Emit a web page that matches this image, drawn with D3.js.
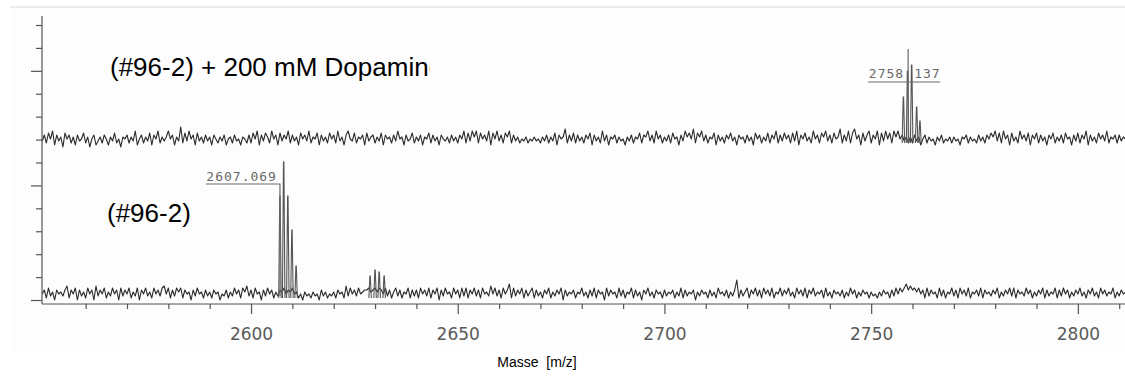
<!DOCTYPE html>
<html>
<head>
<meta charset="utf-8">
<script src="https://cdn.jsdelivr.net/npm/d3@7"></script>
<style>
  body { margin: 0; background: #fff; }
  svg { display: block; }
</style>
</head>
<body>
<svg id="chart" width="1125" height="385"></svg>
<script>
// m/z grid shared by both traces
const massStart = 2549.5;
const massStep = 0.5;

// upper trace (#96-2 + 200 mM Dopamine), baseline noise
const noiseTop = [
  0,3,-1,4,1,5,-2,3,0,2,-3,4,1,3,-1,2,-2,3,0,1,
  4,-1,2,-3,1,3,-2,0,2,-1,3,1,-2,2,0,4,-1,1,-3,2,
  1,3,-1,2,0,5,-2,1,3,-1,2,0,4,-2,3,1,5,-1,2,0,
  2,5,1,3,-2,2,0,7,-1,4,0,5,1,3,-2,4,0,2,-1,3,
  0,2,-2,3,1,-1,2,0,3,-2,1,2,-1,3,0,1,-2,2,1,-1,
  3,-1,4,1,5,-2,3,0,4,2,-1,5,1,3,-2,4,0,3,1,5,
  -1,3,0,2,-2,4,1,3,0,5,-1,2,1,4,-2,3,0,2,-1,4,
  1,3,-1,5,0,2,-2,3,5,1,0,4,-1,2,1,3,-2,4,0,2,
  3,-1,2,0,4,-2,3,1,2,-1,3,0,5,1,2,-2,3,0,1,4,
  -1,2,0,3,-2,2,1,4,-1,3,0,2,-2,3,1,0,2,-1,3,0,
  2,-1,3,1,5,-1,4,0,5,2,5,-1,4,1,3,0,5,-2,4,1,
  5,0,3,-1,4,2,5,-1,3,0,2,-1,1,0,2,-1,1,0,2,0,
  1,-1,2,0,3,-1,2,0,4,-2,3,1,2,6,-1,3,0,4,-1,3,
  0,2,-1,3,1,4,-2,3,0,2,-1,5,0,3,-2,2,1,3,-1,2,
  0,1,-2,2,0,3,-1,2,1,4,-1,3,2,5,0,3,-1,5,1,3,
  -1,2,0,3,-1,4,1,2,-2,3,0,5,2,4,1,6,-1,4,2,5,
  0,3,-1,2,1,4,-2,3,0,2,-1,3,1,4,0,2,-2,3,1,2,
  -1,3,0,2,-2,4,1,3,-1,2,0,4,-1,3,1,5,-1,3,0,4,
  1,3,-1,4,0,5,-2,3,1,4,0,2,-1,5,1,3,-1,4,2,5,
  0,3,-1,4,1,2,6,-1,3,0,5,-1,4,6,1,3,-2,4,0,3,
  5,-1,3,1,5,-2,4,0,5,1,4,-1,5,2,5,1,3,0,2,-1,
  2,-1,3,0,2,-2,1,3,-1,2,0,1,-2,2,0,3,-1,1,0,2,
  -1,2,0,1,-2,2,1,3,-1,2,0,1,-1,3,0,2,-1,3,1,4,
  2,5,0,4,-1,5,1,3,-2,4,0,2,-1,5,1,3,0,4,-2,3,
  1,4,-1,3,0,2,-2,3,1,4,-1,2,0,3,-1,4,1,2,-2,3,
  0,4,-1,3,1,5,-2,3,0,2,-1,4,1,3,0,5,-1,2,1,3,
  -1,3,0,2,1
];

// lower trace (#96-2)
const noiseBottom = [
  1,3,-1,4,0,2,-2,3,1,2,0,3,5,-1,3,1,4,-2,3,0,
  2,-1,4,1,3,-2,5,0,3,1,4,-1,2,0,4,1,3,-2,4,0,
  3,1,4,-1,2,0,4,-2,3,1,4,0,2,-1,4,1,3,0,4,5,
  1,4,-1,3,0,4,2,4,-1,3,1,2,-2,3,0,4,1,2,-1,3,
  0,2,-1,3,1,2,-2,1,0,3,-1,2,0,4,1,3,-1,4,2,5,
  0,3,-1,4,1,2,-2,3,0,4,1,3,-1,2,0,3,2,4,1,3,
  2,4,1,2,-1,1,-2,2,0,1,-1,2,0,1,-2,3,0,2,-1,1,
  0,2,-1,3,1,2,-1,5,0,4,1,3,0,4,1,2,3,3,4,2,
  3,4,2,4,3,1,4,0,3,-1,2,4,0,3,-1,2,1,4,-1,3,
  0,3,-1,4,1,3,0,4,-1,3,1,4,-2,3,0,4,1,2,-1,4,
  1,3,-1,4,0,4,-1,3,1,4,0,3,-1,4,1,2,0,5,1,4,
  0,3,-1,4,1,3,6,-1,4,0,3,1,4,-1,3,0,2,4,-1,3,
  0,2,-1,3,1,4,-1,2,0,3,1,4,-2,3,0,2,1,3,-1,2,
  1,4,0,2,-1,3,0,4,-1,3,1,2,-2,4,0,3,1,2,-1,4,
  0,3,-1,2,1,4,-1,3,0,2,-2,3,1,4,0,2,-1,3,1,2,
  -1,3,0,2,1,3,-1,2,0,4,-1,3,0,2,1,3,-2,2,0,3,
  1,2,-1,3,0,2,-1,4,1,2,0,3,-1,2,0,3,8,-1,3,0,
  2,4,-1,3,1,4,0,3,-1,4,1,3,0,4,-1,2,1,4,0,3,
  1,4,0,2,-1,4,1,3,0,4,-1,3,1,4,0,2,1,3,-1,4,
  0,2,-1,3,1,2,0,3,-1,2,0,4,1,3,-1,2,0,3,1,2,
  -1,2,0,1,-1,2,0,3,1,2,-1,3,0,4,1,4,2,4,6,3,
  5,3,4,2,4,1,3,-1,4,0,3,1,2,-1,4,0,3,-1,2,1,
  4,0,3,-1,4,1,3,0,4,-1,2,1,3,0,4,-1,3,1,2,0,
  3,1,4,-1,2,0,3,1,4,0,4,-1,3,1,2,0,4,1,3,-1,
  2,0,3,1,4,-1,3,0,2,1,4,-1,3,0,4,1,3,-1,2,0,
  3,1,4,0,2,-1,3,1,4,0,2,-1,4,1,3,0,2,1,4,-1,
  2,0,3,1,2
];

// isotope peaks
const peaksTopMass = [2757.8, 2758.8, 2759.8, 2761.0, 2761.8];
const peaksTopHeight = [22, 35, 38, 17, 10];
const peaksBottomMass = [2607.0, 2607.9, 2608.9, 2609.9, 2610.9, 2628.8, 2630.0, 2631.0, 2632.2];
const peaksBottomHeight = [50, 67, 50, 33, 15, 10, 13, 12, 10];

// peak annotations
const annTopMass = 2758.95;
const annBottomMass = 2607.0;

const xTickValues = [2600, 2650, 2700, 2750, 2800];
const xMinorTicks = d3.range(2560, 2811, 10);
const yTickCount = 12;

const svg = d3.select("#chart");

// scanned sheet
svg.append("rect")
  .attr("x", 10).attr("y", 7)
  .attr("width", 1115).attr("height", 346)
  .attr("fill", "#fdfdfd");
svg.append("line")
  .attr("x1", 10).attr("x2", 1125).attr("y1", 7).attr("y2", 7)
  .attr("stroke", "#d9d9d9");

// scales (2 px per intensity unit)
const x = d3.scaleLinear().domain([2549.44, 2811.4]).range([42, 1125]);
const yTop = d3.scaleLinear().domain([0, 50]).range([141, 41]);
const yBot = d3.scaleLinear().domain([0, 50]).range([296, 196]);
const yIdx = d3.scaleLinear().domain([0, yTickCount]).range([300, 25]);

// Draw traces
const line = d3.line().x(d => x(d[0]));

function trace(noise, y) {
  const pts = noise.map((v, i) => [massStart + i * massStep, v]);
  svg.append("path")
    .attr("d", line.y(d => y(d[1]))(pts))
    .attr("fill", "none")
    .attr("stroke", "#2a2a2a")
    .attr("stroke-width", 1.1)
    .attr("stroke-linejoin", "round");
}
trace(noiseTop, yTop);
trace(noiseBottom, yBot);

function peaks(masses, heights, y) {
  masses.forEach((m, i) => {
    const pts = [[m - 0.3, -1], [m - 0.05, heights[i]], [m + 0.05, heights[i]], [m + 0.3, -1]];
    svg.append("path")
      .attr("d", line.y(d => y(d[1]))(pts))
      .attr("fill", "none")
      .attr("stroke", "#555")
      .attr("stroke-width", 1.1);
  });
}
peaks(peaksTopMass, peaksTopHeight, yTop);
peaks(peaksBottomMass, peaksBottomHeight, yBot);

// Annotations
const annColor = "#6a6a6a";
const annFont = "'DejaVu Sans Mono', monospace";

// lower: 2607.069
svg.append("path")
  .attr("d", `M${x(annBottomMass) - 74},${yBot(56)}H${x(annBottomMass)}V${yBot(0)}`)
  .attr("fill", "none").attr("stroke", annColor).attr("stroke-width", 1.2);
svg.append("text")
  .attr("x", x(annBottomMass) - 3).attr("y", yBot(56) - 3)
  .attr("text-anchor", "end")
  .attr("font-family", annFont).attr("font-size", 13)
  .attr("letter-spacing", 1)
  .attr("fill", annColor)
  .text("2607.069");

// upper: 2758.137
svg.append("path")
  .attr("d", `M${x(annTopMass)},${yTop(46)}V${yTop(0)}M${x(annTopMass) - 40},${yTop(29.5)}H${x(annTopMass) + 32}`)
  .attr("fill", "none").attr("stroke", annColor).attr("stroke-width", 1.2);
svg.append("text")
  .attr("x", x(annTopMass) - 4).attr("y", yTop(29.5) - 4)
  .attr("text-anchor", "end")
  .attr("font-family", annFont).attr("font-size", 13)
  .attr("letter-spacing", 1)
  .attr("fill", annColor)
  .text("2758");
svg.append("text")
  .attr("x", x(annTopMass) + 6).attr("y", yTop(29.5) - 4)
  .attr("font-family", annFont).attr("font-size", 13)
  .attr("letter-spacing", 1)
  .attr("fill", annColor)
  .text("137");

// Y axis (unlabelled intensity ticks)
const yAxis = svg.append("g")
  .attr("transform", "translate(42,0)")
  .call(d3.axisLeft(yIdx).tickValues(d3.range(0, yTickCount + 1)).tickSize(6).tickFormat(""));
yAxis.select(".domain").remove();
yAxis.selectAll(".tick line")
  .attr("x2", d => (d % 5 === 0 ? -11 : -6))
  .attr("stroke", "#555").attr("stroke-width", 1.2);
svg.append("line")
  .attr("x1", 42).attr("x2", 42).attr("y1", 16).attr("y2", 304)
  .attr("stroke", "#555").attr("stroke-width", 1.2);

// X axis
const xMinor = svg.append("g")
  .attr("transform", "translate(0,304)")
  .call(d3.axisBottom(x).tickValues(xMinorTicks.filter(v => v % 50 !== 0)).tickSize(5).tickFormat(""));
xMinor.select(".domain").remove();
xMinor.selectAll(".tick line").attr("stroke", "#555").attr("stroke-width", 1.2);

const xMajor = svg.append("g")
  .attr("transform", "translate(0,304)")
  .call(d3.axisBottom(x).tickValues(xTickValues).tickSize(10).tickPadding(14).tickFormat(d3.format("d")));
xMajor.select(".domain").remove();
xMajor.selectAll(".tick line").attr("stroke", "#555").attr("stroke-width", 1.2);
xMajor.selectAll(".tick text")
  .attr("font-family", "'DejaVu Sans', sans-serif")
  .attr("font-size", 17)
  .attr("fill", "#5a5a5a");

svg.append("line")
  .attr("x1", 42).attr("x2", 1125).attr("y1", 304).attr("y2", 304)
  .attr("stroke", "#555").attr("stroke-width", 1.2);

// Sample labels
svg.append("clipPath").attr("id", "clipLabel")
  .append("rect").attr("x", 0).attr("y", 0).attr("width", 430).attr("height", 385);

svg.append("text")
  .attr("x", 110).attr("y", 76)
  .attr("clip-path", "url(#clipLabel)")
  .attr("font-family", "'Liberation Sans', Arial, sans-serif")
  .attr("font-size", 26)
  .attr("fill", "#000")
  .text("(#96-2) + 200 mM Dopamine");

svg.append("text")
  .attr("x", 107).attr("y", 222)
  .attr("font-family", "'Liberation Sans', Arial, sans-serif")
  .attr("font-size", 26)
  .attr("fill", "#000")
  .text("(#96-2)");

// Axis title
svg.append("text")
  .attr("x", 537).attr("y", 367)
  .attr("text-anchor", "middle")
  .attr("font-family", "'Liberation Sans', Arial, sans-serif")
  .attr("font-size", 14)
  .attr("fill", "#000")
  .attr("xml:space", "preserve")
  .text("Masse  [m/z]");
</script>
</body>
</html>
